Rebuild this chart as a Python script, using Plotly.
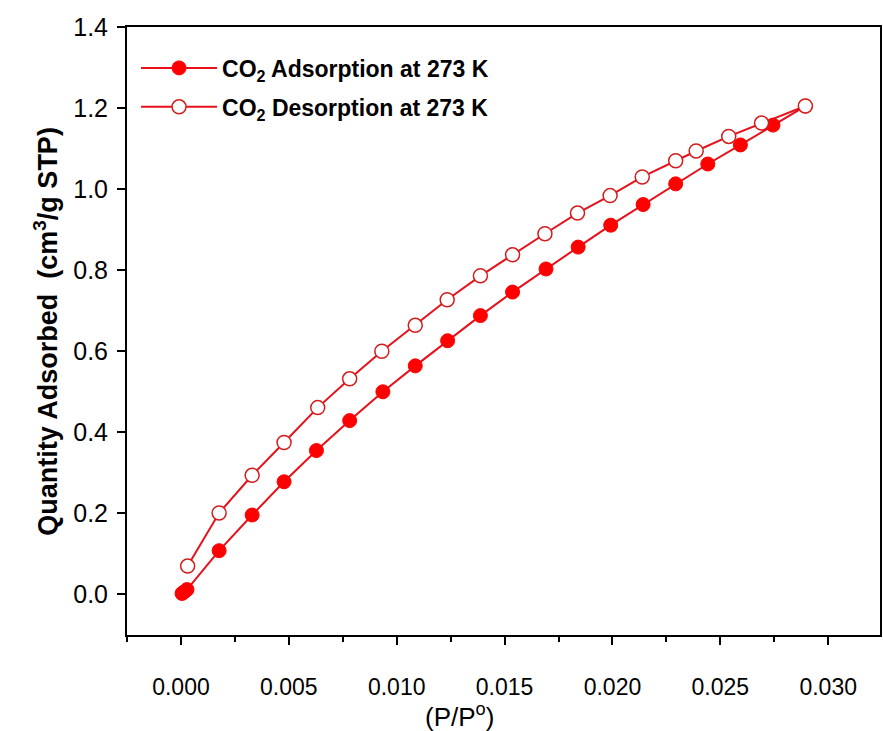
import plotly.graph_objects as go

# Adsorption branch (filled markers)
ads_x = [0.00005, 0.00014, 0.00028, 0.00177, 0.00330, 0.00478, 0.00628, 0.00782,
         0.00936, 0.01086, 0.01236, 0.01388, 0.01537, 0.01692, 0.01841, 0.01992,
         0.02142, 0.02293, 0.02442, 0.02593, 0.02744, 0.02894]
ads_y = [0.0025, 0.006, 0.012, 0.108, 0.196, 0.278, 0.355, 0.429,
         0.500, 0.564, 0.626, 0.688, 0.746, 0.803, 0.857, 0.911,
         0.962, 1.013, 1.062, 1.109, 1.158, 1.205]

# Desorption branch (open markers)
des_x = [0.02894, 0.02691, 0.02539, 0.02388, 0.02293, 0.02138, 0.01989, 0.01838,
         0.01687, 0.01537, 0.01388, 0.01234, 0.01086, 0.00931, 0.00782, 0.00634,
         0.00478, 0.00330, 0.00177, 0.00031]
des_y = [1.205, 1.163, 1.130, 1.094, 1.070, 1.030, 0.984, 0.941,
         0.890, 0.838, 0.786, 0.727, 0.664, 0.600, 0.532, 0.461,
         0.375, 0.294, 0.201, 0.070]

x_ticks = [0.000, 0.005, 0.010, 0.015, 0.020, 0.025, 0.030]
y_ticks = [0.0, 0.2, 0.4, 0.6, 0.8, 1.0, 1.2, 1.4]

RED = "#ff0000"
LINE_RED = "#e8101a"
FONT = "Arial, Liberation Sans, sans-serif"

fig = go.Figure()
fig.add_trace(go.Scatter(
    x=ads_x, y=ads_y, mode="lines+markers",
    name="CO<sub>2</sub> Adsorption at 273 K", legendgroup="a",
    line=dict(color=LINE_RED, width=2),
    marker=dict(symbol="circle", size=14, color=RED, line=dict(color=RED, width=1)),
))
fig.add_trace(go.Scatter(
    x=des_x, y=des_y, mode="lines+markers",
    name="CO<sub>2</sub> Desorption at 273 K", legendgroup="d",
    line=dict(color=LINE_RED, width=2),
    marker=dict(symbol="circle", size=14, color="white", line=dict(color="#d41c1c", width=1.5)),
))

axis_common = dict(
    showline=True, linecolor="black", linewidth=2, mirror=True,
    showgrid=False, zeroline=False,
    ticks="outside", ticklen=8, tickwidth=2, tickcolor="black",
)

fig.update_xaxes(
    range=[-0.0025, 0.0324], tickvals=x_ticks,
    ticktext=[f"{v:.3f}" for v in x_ticks],
    tickfont=dict(family=FONT, size=23, color="black"),
    ticklabelstandoff=22,
    minor=dict(dtick=0.0025, tick0=0, ticks="outside", ticklen=5, tickwidth=2, tickcolor="black"),
    **axis_common,
)
fig.update_yaxes(
    range=[-0.1, 1.4], tickvals=y_ticks,
    ticktext=[f"{v:.1f}" for v in y_ticks],
    tickfont=dict(family=FONT, size=25, color="black"),
    ticklabelstandoff=4,
    **axis_common,
)

fig.add_annotation(
    text="(P/P<sup>o</sup>)", xref="paper", yref="paper",
    x=0.441, y=-0.132, xanchor="center", yanchor="middle",
    showarrow=False, font=dict(family=FONT, size=26, color="black"),
)
fig.add_annotation(
    text="<b>Quantity Adsorbed  (cm<sup>3</sup>/g STP)</b>", xref="paper", yref="paper",
    x=-0.108, y=0.5, xanchor="center", yanchor="middle", textangle=-90,
    showarrow=False, font=dict(family=FONT, size=27, color="black"),
)

fig.update_layout(
    width=883, height=731,
    margin=dict(l=127, r=1, t=27, b=96),
    paper_bgcolor="white", plot_bgcolor="white",
    legend=dict(
        x=0.012, y=0.968, xanchor="left", yanchor="top",
        font=dict(family=FONT, size=23, color="black", weight="bold"),
        bgcolor="rgba(0,0,0,0)", borderwidth=0,
        traceorder="grouped", tracegroupgap=6, itemwidth=76,
    ),
)

fig.write_html("out.html")
